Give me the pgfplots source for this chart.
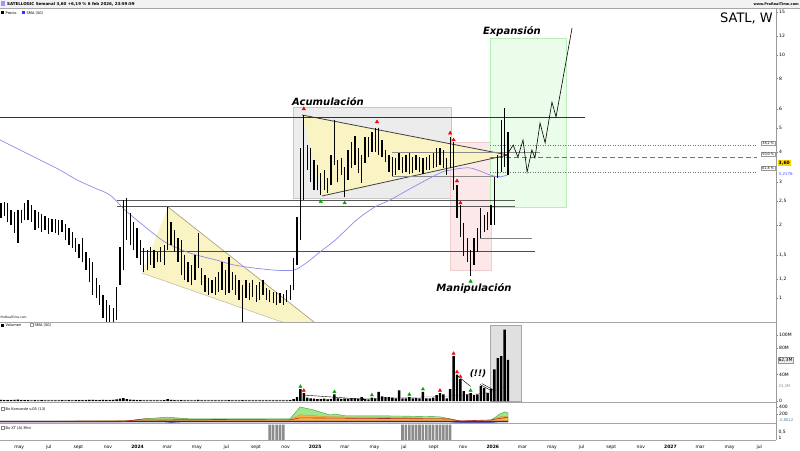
\documentclass[border=0pt]{standalone}
\usepackage{fontspec}
\setmainfont{DejaVu Sans}[ItalicFont={DejaVu Sans Oblique},BoldFont={DejaVu Sans Bold},BoldItalicFont={DejaVu Sans Bold Oblique}]
\usepackage{pgfplots}
\pgfplotsset{compat=1.18}
\usetikzlibrary{arrows.meta}
\definecolor{wedge}{RGB}{250,243,196}
\definecolor{wedgeline}{RGB}{160,155,120}
\definecolor{boxgray}{RGB}{236,236,236}
\definecolor{boxgrayline}{RGB}{200,200,200}
\definecolor{boxpink}{RGB}{252,232,232}
\definecolor{boxpinkline}{RGB}{240,205,205}
\definecolor{boxgreen}{RGB}{234,252,234}
\definecolor{boxgreenline}{RGB}{185,238,185}
\definecolor{smablue}{RGB}{140,140,235}
\definecolor{kgreen}{RGB}{160,230,140}
\definecolor{kgreenl}{RGB}{60,160,60}
\definecolor{korange}{RGB}{250,178,70}
\definecolor{kred}{RGB}{190,40,40}
\definecolor{kblue}{RGB}{40,40,150}
\definecolor{lastyel}{RGB}{250,215,0}
\newcommand{\tf}{\fontsize{4.5}{5}\selectfont}
\newcommand{\smf}{\fontsize{3.6}{4}\selectfont}
\begin{document}
\begin{tikzpicture}[x=1pt,y=1pt]
\fill[white] (0,0) rectangle (800,450);
\fill[black!5] (0,442) rectangle (800,450);
\pgfplotsset{panel/.style={scale only axis, width=776pt, anchor=south west,
  xmin=11.75, xmax=239.72, axis line style={draw=none}, xtick=\empty, ytick pos=right,
  tick align=outside, major tick length=1.5pt,
  tick style={black!50, line width=0.3pt},
  tick label style={font=\tf}, yticklabel style={anchor=west, inner sep=1.5pt}}}

% ---------- background shapes (overlay in picture units) ----------
\begin{axis}[at={(0pt,128pt)}, anchor=south west, scale only axis, width=776pt, height=314pt,
  xmin=0, xmax=776, ymin=128, ymax=442, axis line style={draw=none}, xtick=\empty, ytick=\empty]
\addplot[draw=none] coordinates {(0,130)};
\filldraw[fill=boxgray, draw=boxgrayline, line width=0.6pt] (293,252) rectangle (451,343);
\filldraw[fill=boxpink, draw=boxpinkline, line width=0.6pt] (450,180) rectangle (491,308);
\filldraw[fill=boxgreen, draw=boxgreenline, line width=0.6pt] (490,243) rectangle (566,412);
\fill[wedge] (168,243) -- (314,128) -- (282,128) -- (142,177) -- cycle;
\draw[wedgeline, line width=0.6pt] (168,243) -- (314,128);
\draw[wedgeline!70, line width=0.5pt] (142,177) -- (282,128);
\fill[wedge] (302,335) -- (508,295) -- (322,254) -- cycle;
\draw[black!75, line width=0.8pt] (302,335) -- (508,295);
\draw[black!75, line width=0.8pt] (322,254) -- (508,295);
\end{axis}

% ---------- price panel ----------
\begin{axis}[panel, at={(0pt,128pt)}, height=314pt, ymode=log, ymin=0.7966, ymax=15.61,
  ytick={1,1.2,1.5,2,2.5,3,4,5,6,8,10,12,15},
  yticklabels={1,{1,2},{1,5},2,{2,5},3,4,5,6,8,10,12,15}]
\addplot[color=black!80, line width=0.9pt] coordinates {(11.75,5.51) (183.6,5.51)};
\addplot[color=black!65, line width=0.9pt] coordinates {(46.1,2.53) (163.0,2.53)};
\addplot[color=black!65, line width=0.9pt] coordinates {(46.1,2.37) (163.0,2.37)};
\addplot[red, line width=1.1pt] coordinates {(52.9,1.56) (168.9,1.56)};
\addplot[color=black!50, line width=0.4pt] coordinates {(152.8,1.77) (168.0,1.77)};
\addplot[color=black!45, line width=0.4pt] coordinates {(126.9,3.99) (170.4,3.99)};
\addplot[color=black!45, line width=0.4pt] coordinates {(126.9,3.18) (158.6,3.18)};
\addplot[color=black!55, dotted, line width=0.5pt] coordinates {(155.7,4.26) (234.1,4.26)};
\addplot[color=black!55, dash pattern=on 5pt off 3pt, line width=0.6pt] coordinates {(155.7,3.80) (234.1,3.80)};
\addplot[color=black!55, dotted, line width=0.5pt] coordinates {(155.7,3.30) (234.1,3.30)};
% SMA 50
\addplot[color=smablue, line width=0.7pt, smooth] coordinates {
(11.75,4.47)(17.6,4.07)(23.5,3.70)(29.4,3.36)(34.4,3.06)(39.7,2.83)(44.1,2.65)(48.5,2.30)
(52.9,2.04)(57.3,1.82)(60.8,1.68)(67.6,1.53)(75.5,1.43)(80.2,1.37)(86.1,1.33)(93.1,1.30)
(97.8,1.30)(99.9,1.34)(102.8,1.43)(105.8,1.55)(110.2,1.73)(116.6,2.10)(121.9,2.37)(126.3,2.53)
(133.1,2.86)(141.0,3.27)(144.0,3.36)(149.8,3.43)(155.7,3.21)(158.6,3.15)(161,3.2176)};
% weekly bars (low, high)
\addplot[color=black, line width=1.3pt, unbounded coords=jump] coordinates {
(12,2.14)(12,2.46)(12,nan) (13,2.18)(13,2.49)(13,nan) (14,2.06)(14,2.46)(14,nan)
(15,2.00)(15,2.30)(15,nan) (16,1.85)(16,2.26)(16,nan) (17,1.68)(17,2.30)(17,nan)
(18,2.04)(18,2.30)(18,nan) (19,2.10)(19,2.46)(19,nan) (20,2.10)(20,2.53)(20,nan)
(21,2.06)(21,2.42)(21,nan) (22,1.91)(22,2.30)(22,nan) (23,1.94)(23,2.26)(23,nan)
(24,1.87)(24,2.22)(24,nan) (25,1.91)(25,2.18)(25,nan) (26,1.83)(26,2.14)(26,nan)
(27,1.87)(27,2.11)(27,nan) (28,1.85)(28,2.11)(28,nan) (29,1.82)(29,2.10)(29,nan)
(30,1.87)(30,2.10)(30,nan) (31,1.73)(31,2.02)(31,nan) (32,1.65)(32,1.94)(32,nan)
(33,1.61)(33,1.87)(33,nan) (34,1.55)(34,1.77)(34,nan) (35,1.46)(35,1.67)(35,nan)
(36,1.41)(36,1.77)(36,nan) (37,1.30)(37,1.55)(37,nan) (38,1.16)(38,1.46)(38,nan)
(39,1.03)(39,1.41)(39,nan) (40,1.00)(40,1.21)(40,nan) (41,0.94)(41,1.13)(41,nan)
(42,0.83)(42,1.03)(42,nan) (43,0.78)(43,0.98)(43,nan) (44,0.76)(44,0.94)(44,nan)
(45,0.77)(45,0.91)(45,nan) (46,0.81)(46,1.11)(46,nan) (47,1.13)(47,1.62)(47,nan)
(48,1.30)(48,2.53)(48,nan) (49,1.73)(49,2.58)(49,nan) (50,1.65)(50,2.24)(50,nan)
(51,1.58)(51,2.06)(51,nan) (52,1.46)(52,1.94)(52,nan) (53,1.37)(53,1.73)(53,nan)
(54,1.28)(54,1.61)(54,nan) (55,1.30)(55,1.58)(55,nan) (56,1.37)(56,1.62)(56,nan)
(57,1.33)(57,1.58)(57,nan) (58,1.41)(58,1.55)(58,nan) (59,1.41)(59,1.62)(59,nan)
(60,1.37)(60,1.65)(60,nan) (61,1.58)(61,2.37)(61,nan) (62,1.65)(62,2.06)(62,nan)
(63,1.55)(63,1.91)(63,nan) (64,1.41)(64,1.77)(64,nan) (65,1.24)(65,1.73)(65,nan)
(66,1.19)(66,1.50)(66,nan) (67,1.16)(67,1.41)(67,nan) (68,1.13)(68,1.37)(68,nan)
(69,1.19)(69,1.50)(69,nan) (70,1.33)(70,1.85)(70,nan) (71,1.13)(71,1.33)(71,nan)
(72,1.06)(72,1.24)(72,nan) (73,1.03)(73,1.21)(73,nan) (74,1.05)(74,1.19)(74,nan)
(75,1.03)(75,1.22)(75,nan) (76,1.06)(76,1.28)(76,nan) (77,1.08)(77,1.41)(77,nan)
(78,1.03)(78,1.30)(78,nan) (79,1.05)(79,1.48)(79,nan) (80,1.08)(80,1.28)(80,nan)
(81,1.03)(81,1.24)(81,nan) (82,0.98)(82,1.19)(82,nan) (83,0.78)(83,1.13)(83,nan)
(84,1.00)(84,1.19)(84,nan) (85,0.98)(85,1.15)(85,nan) (86,1.01)(86,1.19)(86,nan)
(87,0.96)(87,1.13)(87,nan) (88,0.98)(88,1.16)(88,nan) (89,1.03)(89,1.19)(89,nan)
(90,0.98)(90,1.10)(90,nan) (91,0.96)(91,1.08)(91,nan) (92,0.95)(92,1.06)(92,nan)
(93,0.94)(93,1.06)(93,nan) (94,0.95)(94,1.05)(94,nan) (95,0.94)(95,1.04)(95,nan)
(96,0.96)(96,1.08)(96,nan) (97,0.98)(97,1.13)(97,nan) (98,1.08)(98,1.46)(98,nan)
(99,1.37)(99,2.16)(99,nan) (100,1.73)(100,4.14)(100,nan) (101,2.53)(101,5.67)(101,nan)
(102,3.36)(102,4.26)(102,nan) (103,3.00)(103,4.14)(103,nan) (104,2.78)(104,3.70)(104,nan)
(105,2.78)(105,3.53)(105,nan) (106,2.65)(106,3.27)(106,nan) (107,2.78)(107,3.36)(107,nan)
(108,2.70)(108,3.12)(108,nan) (109,2.92)(109,3.88)(109,nan) (110,3.53)(110,5.40)(110,nan)
(111,3.00)(111,3.70)(111,nan) (112,3.21)(112,3.77)(112,nan) (113,2.60)(113,3.46)(113,nan)
(114,3.06)(114,4.07)(114,nan) (115,3.43)(115,4.39)(115,nan) (116,3.53)(116,4.64)(116,nan)
(117,3.27)(117,4.14)(117,nan) (118,2.97)(118,3.88)(118,nan) (119,3.59)(119,4.60)(119,nan)
(120,3.80)(120,4.60)(120,nan) (121,3.99)(121,4.82)(121,nan) (122,3.99)(122,5.01)(122,nan)
(123,3.88)(123,5.01)(123,nan) (124,3.80)(124,4.47)(124,nan) (125,3.63)(125,4.07)(125,nan)
(126,3.30)(126,3.88)(126,nan) (127,3.18)(127,3.80)(127,nan) (128,3.21)(128,3.77)(128,nan)
(129,3.36)(129,3.95)(129,nan) (130,3.27)(130,3.80)(130,nan) (131,3.30)(131,3.88)(131,nan)
(132,3.24)(132,3.95)(132,nan) (133,3.27)(133,3.80)(133,nan) (134,3.36)(134,3.88)(134,nan)
(135,3.30)(135,3.80)(135,nan) (136,3.24)(136,3.77)(136,nan) (137,3.36)(137,3.80)(137,nan)
(138,3.36)(138,3.88)(138,nan) (139,3.43)(139,3.95)(139,nan) (140,3.46)(140,4.14)(140,nan)
(141,3.53)(141,4.14)(141,nan) (142,3.43)(142,4.07)(142,nan) (143,3.21)(143,3.77)(143,nan)
(144,3.43)(144,4.60)(144,nan) (145,2.78)(145,4.39)(145,nan) (146,2.14)(146,2.92)(146,nan)
(147,1.78)(147,2.42)(147,nan) (148,1.49)(148,2.04)(148,nan) (149,1.41)(149,1.77)(149,nan)
(150,1.23)(150,1.58)(150,nan) (151,1.37)(151,1.77)(151,nan) (152,1.55)(152,1.94)(152,nan)
(153,1.77)(153,2.35)(153,nan) (154,1.87)(154,2.20)(154,nan) (155,1.91)(155,2.26)(155,nan)
(156,2.00)(156,2.42)(156,nan) (157,2.00)(157,3.15)(157,nan) (158,3.12)(158,3.88)(158,nan)
(159,3.30)(159,5.40)(159,nan) (160,3.46)(160,6.05)(160,nan) (161,3.21)(161,4.82)};
% projected path
\addplot[color=black, line width=0.6pt] coordinates {(161,3.95)(162.5,4.26)(163.9,3.80)(165.4,4.47)
(166.6,3.30)(168.0,4.07)(168.9,3.77)(170.4,5.25)(171.9,4.35)(173.9,6.40)(175.1,5.56)(179.8,12.9)};
% signals
\addplot[only marks, mark=triangle*, mark size=2pt, color=red] coordinates {(101,6.0)(122.5,5.30)(144,4.77)(145,4.47)(146,3.03)(147,2.46)};
\addplot[only marks, mark=triangle*, mark size=2pt, color=green!65!black] coordinates {(106,2.49)(113,2.46)(150,1.17)};
\end{axis}

% ---------- volume panel ----------
\begin{axis}[panel, at={(0pt,49pt)}, height=79pt, ymin=0, ymax=119.7,
  ytick={0,40,80,100}, yticklabels={0,40M,80M,100M}]
\filldraw[fill=black!12, draw=black!35, line width=0.5pt] (axis cs:155.8,0) rectangle (axis cs:164.8,115);
\addplot[color=black!35, line width=0.4pt, smooth] coordinates {(11.75,1.5)(99,1.3)(110,3)(130,5)(145,8)(155,13)(161,23.2)};
\addplot[ybar, bar width=2.4pt, bar shift=0pt, fill=black, draw=none] table {
w v
12 1.8
13 1.5
14 1.2
15 1.4
16 1.6
17 2.0
18 1.3
19 1.2
20 1.5
21 1.1
22 1.3
23 1.0
24 1.2
25 1.0
26 0.9
27 1.1
28 1.0
29 0.9
30 1.2
31 1.0
32 1.3
33 1.1
34 1.2
35 1.4
36 1.3
37 1.2
38 1.6
39 1.8
40 1.5
41 1.4
42 1.7
43 1.5
44 1.3
45 1.6
46 2.5
47 3.5
48 4.5
49 3.0
50 2.0
51 1.6
52 1.4
53 1.2
54 1.1
55 1.0
56 1.0
57 0.9
58 0.9
59 1.0
60 1.2
61 3.0
62 1.8
63 1.2
64 1.1
65 1.3
66 1.0
67 0.9
68 1.0
69 1.1
70 1.6
71 1.0
72 0.9
73 0.9
74 0.8
75 0.9
76 1.0
77 1.1
78 0.9
79 1.2
80 0.9
81 0.8
82 0.9
83 1.5
84 0.9
85 0.8
86 0.8
87 0.9
88 0.8
89 0.9
90 0.8
91 0.8
92 0.8
93 0.9
94 0.8
95 0.9
96 1.0
97 1.5
98 3.0
99 6.0
100 18
101 12
102 5
103 4
104 3.5
105 3
106 3
107 3.5
108 2.5
109 3
110 10
111 4
112 3
113 3.5
114 3
115 4
116 3.5
117 3
118 6
119 3
120 2.5
121 5
122 4
123 14
124 7
125 6
126 6
127 5
128 4
129 16
130 4
131 4
132 6
133 4
134 4.5
135 4
136 14
137 4
138 4
139 5
140 9
141 12
142 10
143 4
144 18
145 68
146 40
147 33
148 15
149 10
150 12
151 9
152 10
153 23
154 20
155 12
156 18
157 48
158 65
159 68
160 108
161 62.3
};
\addplot[only marks, mark=triangle*, mark size=1.8pt, color=red] coordinates {(101,16)(141,16)(145,72)(146,44)(147,37)};
\addplot[only marks, mark=triangle*, mark size=1.8pt, color=green!65!black] coordinates {(100,22)(110,14)(121,9)(132,10)(136,18)(150,16)};
\draw[black, line width=0.4pt, -{Stealth[length=2.5pt,width=2pt]}] (axis cs:101,9) -- (axis cs:119,2.5);
\draw[black, line width=0.4pt] (axis cs:146,39) -- (axis cs:150,22);
\draw[black, line width=0.4pt] (axis cs:152.8,25) -- (axis cs:156.3,15);
\draw[black, line width=0.4pt] (axis cs:153.3,26.5) -- (axis cs:156.8,16.5);
\end{axis}

% ---------- Koncorde panel ----------
\begin{axis}[panel, at={(0pt,27pt)}, height=20pt, ymin=-57, ymax=514,
  ytick={200,400}, yticklabels={200,400}]
\addplot[fill=kgreen, draw=kgreenl, line width=0.4pt] coordinates {(11.75,-20)(47,-20)(53.8,57)(60.8,110)(67.6,60)(96.9,60)(99.9,400)(103.7,320)(108.7,171)(110.2,200)(113.1,150)(129.3,143)(141,120)(143.9,60)(146.9,0)(155.7,0)(158.6,200)(160.1,260)(161,230)} \closedcycle;
\addplot[fill=korange, draw=korange!80!black, line width=0.3pt] coordinates {(11.75,-10)(96.9,40)(99.9,180)(104,150)(110,120)(129.3,100)(143.9,60)(146.9,0)(155.7,10)(159,130)(161,120)} \closedcycle;
\addplot[fill=kblue, draw=kblue, line width=0.3pt] coordinates {(11.75,-30)(60,-30)(62,-40)(65,-30)(143.9,-30)(146.9,-45)(155.7,-45)(158,-30)(161,-30)} \closedcycle;
\addplot[color=kred, line width=0.6pt] coordinates {(11.75,-25)(47,-25)(53.8,57)(96.9,30)(99.9,90)(143.9,57)(146.9,0)(155.7,30)(161,110)};
\end{axis}

% ---------- XT panel ----------
\begin{axis}[panel, at={(0pt,10pt)}, height=17pt, ymin=0, ymax=1,
  ytick=\empty, xtick pos=bottom, xtick style={draw=none},
  xtick={17.39,26.09,34.78,43.48,52.17,60.87,69.57,78.26,86.96,95.65,104.35,113.04,121.74,130.43,139.13,147.83,156.52,165.22,173.91,182.61,191.30,200.0,208.70,217.39,226.09,234.78},
  xticklabels={may,jul,sept,nov,\textbf{2024},mar,may,jul,sept,nov,\textbf{2025},mar,may,jul,sept,nov,\textbf{2026},mar,may,jul,sept,nov,\textbf{2027},mar,may,jul},
  xticklabel style={yshift=-0.5pt}]
\addplot[ybar, bar width=2.6pt, bar shift=0pt, fill=black!45, draw=none] coordinates {
(91,0.9)(92,0.9)(93,0.9)(94,0.9)(95,0.9)
(130,0.9)(131,0.9)(132,0.9)(133,0.9)(134,0.9)(135,0.9)(136,0.9)(137,0.9)(138,0.9)(139,0.9)(140,0.9)(141,0.9)(142,0.9)(143,0.9)(144,0.9)};
\end{axis}

% ---------- frame & separators ----------
\draw[black!35, line width=0.4pt] (0,128) -- (776,128);
\draw[black!35, line width=0.4pt] (0,48) -- (776,48);
\draw[black!35, line width=0.4pt] (0,27) -- (776,27);
\draw[black!35, line width=0.4pt] (0,10) -- (776,10);
\draw[black!35, line width=0.4pt] (0,442) -- (800,442);
\draw[black!40, line width=0.4pt] (776,10) -- (776,442);

% ---------- texts ----------
\fill[blue!40] (1,443.5) rectangle (5,448.5);
\node[anchor=west, inner sep=0, font=\fontsize{4}{4}\selectfont\bfseries] at (7,446) {SATELLOGIC Semanal 3,60 +6,19 \% 6 feb 2026, 23:59:59};
\fill[black] (1,435.5) rectangle (4,438.5);
\node[anchor=west, inner sep=0, font=\smf] at (5.5,437) {Precio};
\fill[blue!80] (22,435.5) rectangle (25,438.5);
\node[anchor=west, inner sep=0, font=\smf] at (26.5,437) {SMA (50)};
\node[anchor=east, inner sep=0, font=\fontsize{3.5}{4}\selectfont\bfseries] at (799,446) {www.ProRealTime.com};
\node[anchor=east, inner sep=0, font=\fontsize{13}{13}\selectfont] at (773,432) {SATL, W};
\node[anchor=west, inner sep=0, font=\fontsize{3}{3}\selectfont] at (0.5,132.5) {ProRealTime.com};

\node[font=\fontsize{10}{10}\selectfont\bfseries\itshape] at (328,348) {Acumulación};
\node[font=\fontsize{10}{10}\selectfont\bfseries\itshape] at (474,161) {Manipulación};
\node[font=\fontsize{10}{10}\selectfont\bfseries\itshape] at (512,418) {Expansión};
\node[font=\fontsize{9}{9}\selectfont\bfseries\itshape] at (478,76) {(!!)};

\node[anchor=east, draw=black!40, fill=white, inner sep=0.8pt, font=\fontsize{3.3}{3.5}\selectfont] at (775,307) {38,2 \%};
\node[anchor=east, draw=black!40, fill=white, inner sep=0.8pt, font=\fontsize{3.3}{3.5}\selectfont] at (775,296) {50,0 \%};
\node[anchor=east, draw=black!40, fill=white, inner sep=0.8pt, font=\fontsize{3.3}{3.5}\selectfont] at (775,282) {61,8 \%};
\node[anchor=west, fill=lastyel, inner sep=1pt, font=\tf\bfseries] at (777.5,287.2) {3,60};
\node[anchor=west, inner sep=1pt, text=blue!70, font=\fontsize{4}{4}\selectfont] at (777.5,275.3) {3,2176};

\node[anchor=west, draw=black!40, fill=black!8, inner sep=0.8pt, font=\tf] at (777.5,90) {62,3M};
\node[anchor=west, inner sep=0.8pt, text=black!45, font=\fontsize{3.8}{4}\selectfont] at (777.5,64) {23,2M};
\node[anchor=west, inner sep=0.8pt, text=cyan!60!black, font=\fontsize{3.8}{4}\selectfont] at (777.5,29.5) {-2,8012};
\node[anchor=west, inner sep=0.8pt, font=\tf] at (777.5,18) {0,5};
\node[anchor=west, inner sep=0.8pt, font=\tf] at (777.5,12) {1};

\fill[black] (1,123.5) rectangle (4,126.5);
\node[anchor=west, inner sep=0, font=\smf] at (5.5,125) {Volumen};
\draw[black!40, fill=white, line width=0.3pt] (30,123.5) rectangle (33,126.5);
\node[anchor=west, inner sep=0, font=\smf] at (34.5,125) {SMA (50)};
\draw[black!50, line width=0.3pt] (1,39.5) rectangle (4,42.5);
\node[anchor=west, inner sep=0, font=\smf] at (5.5,41) {Bx Koncorde v.05 (13)};
\draw[black!50, line width=0.3pt] (1,20.5) rectangle (4,23.5);
\node[anchor=west, inner sep=0, font=\smf] at (5.5,22) {Bx XT (A) Mini};
\pgfresetboundingbox
\useasboundingbox (0,0) rectangle (800,450);
\end{tikzpicture}
\end{document}
